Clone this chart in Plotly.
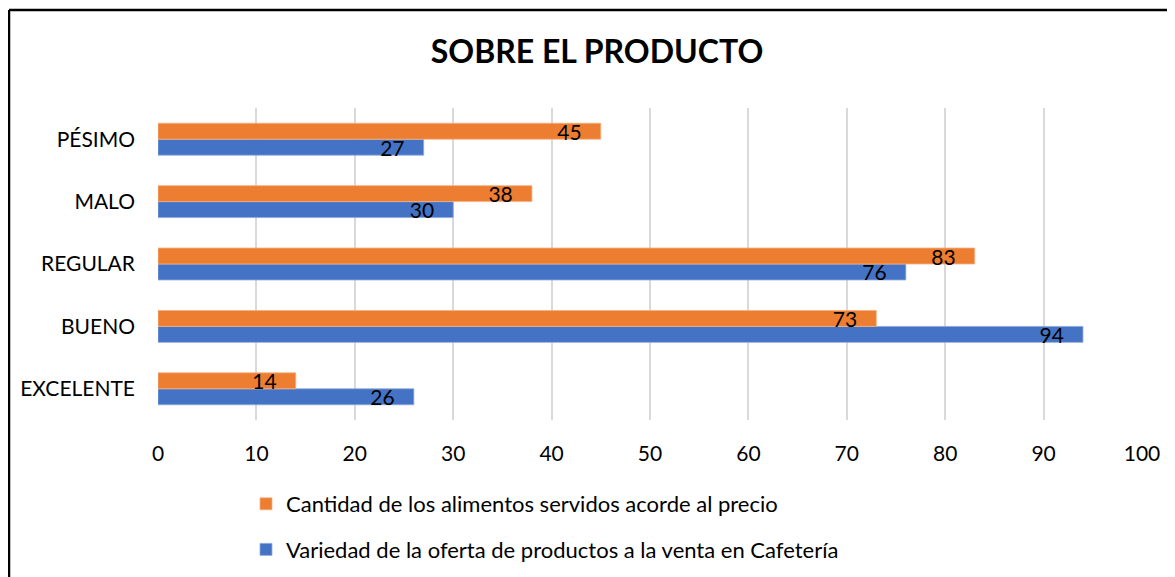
import plotly.graph_objects as go

categories = ["EXCELENTE", "BUENO", "REGULAR", "MALO", "PÉSIMO"]
series_cantidad = [14, 73, 83, 38, 45]
series_variedad = [26, 94, 76, 30, 27]
name_cantidad = "Cantidad de los alimentos servidos acorde al precio"
name_variedad = "Variedad de la oferta de productos a la venta en Cafetería"
x_ticks = [0, 10, 20, 30, 40, 50, 60, 70, 80, 90, 100]
title_text = "SOBRE EL PRODUCTO"

FONT = "Lato"
OFF = 8  # page body margin
W, H = 1175 - OFF, 577 - OFF
ML, MT = 158 - OFF, 108 - OFF
MR = W - (1142 - OFF)
MB = H - (420 - OFF)
pw = W - ML - MR
ph = H - MT - MB

fig = go.Figure()
fig.add_trace(go.Bar(
    y=categories, x=series_variedad, orientation="h", name=name_variedad,
    marker=dict(color="#4472C4", line=dict(color="#8FAADC", width=0.8)),
    text=series_variedad, texttemplate="%{x}   ", textposition="inside",
    insidetextanchor="end", textfont=dict(family=FONT, size=21, color="#000000"),
    legendrank=2, legendgroup="b",
))
fig.add_trace(go.Bar(
    y=categories, x=series_cantidad, orientation="h", name=name_cantidad,
    marker=dict(color="#ED7D31", line=dict(color="#F4B183", width=0.8)),
    text=series_cantidad, texttemplate="%{x}   ", textposition="inside",
    insidetextanchor="end", textfont=dict(family=FONT, size=21, color="#000000"),
    legendrank=1, legendgroup="a",
))

# frame lines (top and left of the chart frame)
bx = (9 - OFF - ML) / pw
by = 1 + (MT - (10 - OFF)) / ph

fig.update_layout(
    width=W, height=H,
    margin=dict(l=ML, r=MR, t=MT, b=MB, autoexpand=False),
    paper_bgcolor="white", plot_bgcolor="white",
    barmode="group", bargap=0.488, bargroupgap=0,
    uniformtext=dict(minsize=21, mode="show"),
    title=dict(text="<b>" + title_text + "</b>", x=(597 - OFF) / W, xanchor="center",
               y=1 - (52 - OFF) / H, yanchor="middle",
               font=dict(family=FONT, size=32, color="#000000")),
    font=dict(family=FONT, size=21, color="#000000"),
    xaxis=dict(range=[0, 100], tickvals=x_ticks, showgrid=True, gridcolor="#D9D9D9",
               gridwidth=1.5, zeroline=False, showline=False, ticks="",
               tickfont=dict(family=FONT, size=21, color="#000000"),
               ticklabelstandoff=19, fixedrange=True),
    yaxis=dict(categoryorder="array", categoryarray=categories, showgrid=False,
               zeroline=False, showline=False, ticks="",
               tickfont=dict(family=FONT, size=21, color="#000000"),
               ticklabelstandoff=22),
    legend=dict(orientation="v", x=(246 - OFF - ML) / pw, xanchor="left",
                y=-(483 - OFF - (MT + ph)) / ph, yanchor="top",
                traceorder="grouped", tracegroupgap=14,
                font=dict(family=FONT, size=22, color="#000000"),
                itemwidth=30),
    showlegend=True,
    shapes=[
        dict(type="line", xref="paper", yref="paper", x0=bx, x1=1.2, y0=by, y1=by,
             line=dict(color="black", width=2.5)),
        dict(type="line", xref="paper", yref="paper", x0=bx, x1=bx, y0=by, y1=-0.7,
             line=dict(color="black", width=2.5)),
    ],
)

fig.write_html("out.html")
